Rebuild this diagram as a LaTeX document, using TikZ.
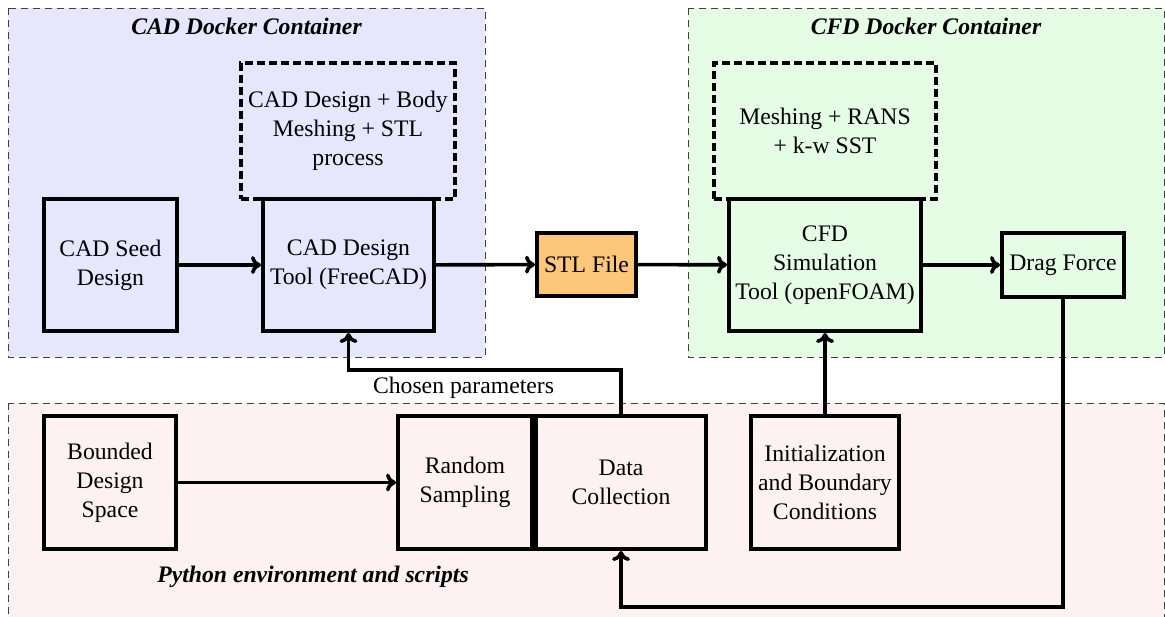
\documentclass[tikz,border=0pt]{standalone}
\usepackage{fontspec}
\setmainfont{Liberation Serif}
\usetikzlibrary{arrows.meta}
\definecolor{cadfill}{RGB}{230,230,253}
\definecolor{cfdfill}{RGB}{228,253,228}
\definecolor{pyfill}{RGB}{253,241,241}
\definecolor{stlfill}{RGB}{253,198,120}
\tikzset{
  every node/.style={font=\fontsize{11.85}{14.5}\selectfont},
  container/.style={draw=black!75, line width=0.5pt, dash pattern=on 3.5pt off 2.5pt},
  boxnode/.style={draw, line width=2pt, align=center, inner sep=1pt},
  procbox/.style={draw, line width=1.7pt, dash pattern=on 4pt off 2pt, align=center, inner sep=1pt},
  ctitle/.style={font=\fontsize{11.85}{14.5}\selectfont\bfseries\itshape, anchor=base},
  arr/.style={line width=1.8pt, -{To[length=5pt,width=9pt]}},
  plainline/.style={line width=1.8pt}
}
\begin{document}
\begin{tikzpicture}[x=0.5pt,y=-0.5pt]
\useasboundingbox (0,0) rectangle (1165,616);
% containers
\draw[container, fill=cadfill] (8,8) rectangle (485,357);
\draw[container, fill=cfdfill] (688,8) rectangle (1164,357);
\draw[container, fill=pyfill] (8,403) rectangle (1164,630);
\node[ctitle] (cadtitle) at (246.5,34) {CAD Docker Container};
\node[ctitle] (cfdtitle) at (926,34) {CFD Docker Container};
\node[ctitle] (pytitle) at (313,582) {Python environment and scripts};
% process boxes
\node[procbox, minimum width=107pt, minimum height=68pt] (caddash) at (348,131) {CAD Design + Body\\Meshing + STL\\process};
\node[procbox, minimum width=111pt, minimum height=68pt] (cfddash) at (825,131) {Meshing + RANS\\+ k-w SST};
% main boxes
\node[boxnode, minimum width=66.5pt, minimum height=66pt] (seed) at (110.5,265) {CAD Seed\\Design};
\node[boxnode, minimum width=85.5pt, minimum height=66pt, fill=cadfill] (tool) at (348.5,265) {CAD Design\\Tool (FreeCAD)};
\node[boxnode, minimum width=49.5pt, minimum height=31.5pt, fill=stlfill] (stl) at (586.5,264.5) {STL File};
\node[boxnode, minimum width=96pt, minimum height=66pt, fill=cfdfill] (cfd) at (825,265) {CFD\\Simulation\\Tool (openFOAM)};
\node[boxnode, minimum width=61pt, minimum height=32pt] (drag) at (1063,265) {Drag Force};
\node[boxnode, minimum width=66pt, minimum height=66.5pt] (bounded) at (110,482.5) {Bounded\\Design\\Space};
\node[boxnode, minimum width=67pt, minimum height=66.5pt] (random) at (465,482.5) {Random\\Sampling};
\node[boxnode, minimum width=85pt, minimum height=66.5pt] (data) at (621,482.5) {Data\\Collection};
\node[boxnode, minimum width=74pt, minimum height=66.5pt] (init) at (825,482.5) {Initialization\\and Boundary\\Conditions};
% connectors
\draw[arr] (seed) -- (tool);
\draw[arr] (tool) -- (stl);
\draw[arr] (stl) -- (cfd);
\draw[arr] (cfd) -- (drag);
\draw[arr] (bounded) -- (random);
\draw[arr] (init) -- (cfd);
\coordinate (cpturn) at (348.5,370);
\draw[arr] (data.north) |- (cpturn) -- (tool.south);
\node[anchor=base] (cplabel) at (463.5,393) {Chosen parameters};
\coordinate (fbturn) at (1063,607);
\draw[arr] (drag.south) -- (fbturn) -| (data.south);
\end{tikzpicture}
\end{document}
